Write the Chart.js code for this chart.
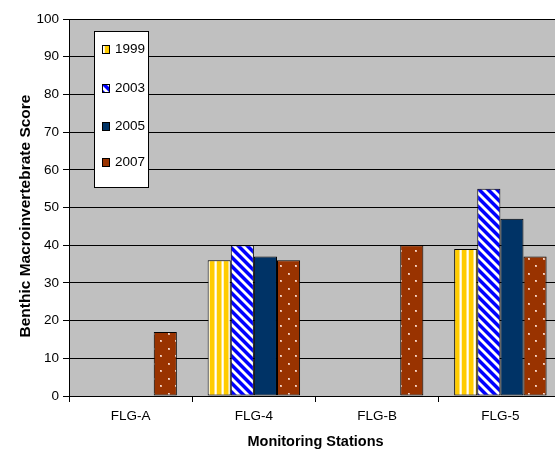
<!DOCTYPE html>
<html>
<head>
<meta charset="utf-8">
<script src="https://cdn.jsdelivr.net/npm/chart.js@4/dist/chart.umd.min.js"></script>
<style>
  html, body { margin: 0; padding: 0; background: #fff; overflow: hidden; }
  #wrap { width: 562px; height: 453px; }
  canvas { display: block; }
</style>
</head>
<body>
<div id="wrap"><canvas id="chart" width="562" height="453"></canvas></div>
<script>
// Monitoring stations and survey years
const stations = ['FLG-A', 'FLG-4', 'FLG-B', 'FLG-5'];
const years = ['1999', '2003', '2005', '2007'];

// Benthic macroinvertebrate scores per year (null = not sampled)
const score1999 = [null, 36, null, 39];
const score2003 = [null, 40, null, 55];
const score2005 = [null, 37, null, 47];
const score2007 = [17, 36, 40, 37];

// Y axis range
const yMin = 0;
const yMax = 100;
const yStep = 10;

const FONT = '"Liberation Sans", Arial, sans-serif';

// ---- fill patterns ----
function makeTile(w, h, paint) {
  const c = document.createElement('canvas');
  c.width = w; c.height = h;
  const g = c.getContext('2d');
  paint(g, w, h);
  return c;
}
function pattern(tile) {
  return document.createElement('canvas').getContext('2d').createPattern(tile, 'repeat');
}

// wide vertical yellow stripes on white
const stripeTile = makeTile(7, 1, (g) => {
  const cols = ['#FFCC00', '#FFCC00', '#FFCC00', '#FFCC00', '#FFE47A', '#FFFFFF', '#FFF2BF'];
  cols.forEach((c, x) => { g.fillStyle = c; g.fillRect(x, 0, 1, 1); });
});

// wide downward diagonal blue stripes on white
const diagTile = makeTile(9, 9, (g, w, h) => {
  for (let y = 0; y < h; y++) {
    for (let x = 0; x < w; x++) {
      const d = ((x - y) % 9 + 9) % 9;
      let c = '#FFFFFF';
      if (d < 4) c = '#0000FF';
      else if (d === 4 || d === 8) c = '#8080FF';
      g.fillStyle = c;
      g.fillRect(x, y, 1, 1);
    }
  }
});

// brown with scattered light dots
const dotTile = makeTile(15, 15, (g, w, h) => {
  g.fillStyle = '#993300';
  g.fillRect(0, 0, w, h);
  g.fillStyle = '#E6B49E';
  g.fillRect(3, 3, 2, 2);
  g.fillRect(10, 10, 2, 2);
  g.fillStyle = '#F6DCD0';
  g.fillRect(3, 3, 1, 1);
  g.fillRect(10, 10, 1, 1);
});

const fill1999 = pattern(stripeTile);
const fill2003 = pattern(diagTile);
const fill2005 = '#003366';
const fill2007 = pattern(dotTile);

// ---- plugins ----
const plotBackground = {
  id: 'plotBackground',
  beforeDraw(chart) {
    const { ctx, chartArea: a } = chart;
    ctx.save();
    ctx.fillStyle = '#C0C0C0';
    ctx.fillRect(a.left, a.top, a.right - a.left, a.bottom - a.top);
    ctx.restore();
  }
};

const yAxisTitle = {
  id: 'yAxisTitle',
  afterDraw(chart) {
    const { ctx } = chart;
    ctx.save();
    ctx.translate(26, 216);
    ctx.rotate(-Math.PI / 2);
    ctx.font = 'bold 15.5px ' + FONT;
    ctx.fillStyle = '#000';
    ctx.textAlign = 'center';
    ctx.textBaseline = 'middle';
    ctx.fillText('Benthic Macroinvertebrate Score', 0, 0);
    ctx.restore();
  }
};

// boxed legend inside the plot area
const boxLegend = {
  id: 'boxLegend',
  afterDraw(chart) {
    const { ctx } = chart;
    const box = { x: 94.5, y: 31.5, w: 54, h: 156 };
    const rows = [49, 88, 126, 162];
    ctx.save();
    ctx.fillStyle = '#FFFFFF';
    ctx.fillRect(box.x, box.y, box.w, box.h);
    ctx.strokeStyle = '#000';
    ctx.lineWidth = 1;
    ctx.strokeRect(box.x, box.y, box.w, box.h);
    ctx.font = '13.5px ' + FONT;
    ctx.textBaseline = 'middle';
    ctx.textAlign = 'left';
    chart.data.datasets.forEach((ds, i) => {
      const cy = rows[i];
      ctx.fillStyle = ds.backgroundColor;
      ctx.fillRect(103, cy - 3, 6, 7);
      ctx.strokeStyle = '#000';
      ctx.strokeRect(102.5, cy - 3.5, 7, 8);
      ctx.fillStyle = '#000';
      ctx.fillText(ds.label, 115, cy + 0.5);
    });
    ctx.restore();
  }
};

function series(label, data, fill) {
  return {
    label,
    data,
    backgroundColor: fill,
    borderColor: '#000',
    borderWidth: 1,
    borderSkipped: false,
    categoryPercentage: 0.75,
    barPercentage: 1.0
  };
}

new Chart(document.getElementById('chart'), {
  type: 'bar',
  data: {
    labels: stations,
    datasets: [
      series(years[0], score1999, fill1999),
      series(years[1], score2003, fill2003),
      series(years[2], score2005, fill2005),
      series(years[3], score2007, fill2007)
    ]
  },
  options: {
    responsive: false,
    animation: false,
    devicePixelRatio: 1,
    layout: { padding: { top: 19, right: 0, bottom: 0, left: 0 } },
    plugins: {
      legend: { display: false },
      tooltip: { enabled: false }
    },
    scales: {
      x: {
        grid: {
          offset: true,
          drawOnChartArea: false,
          drawTicks: true,
          tickLength: 6,
          color: '#000'
        },
        border: { display: true, color: '#000', width: 1 },
        ticks: {
          color: '#000',
          font: { family: FONT, size: 13.5 },
          padding: 6,
          maxRotation: 0
        },
        title: {
          display: true,
          text: 'Monitoring Stations',
          color: '#000',
          font: { family: FONT, size: 14.5, weight: 'bold' },
          padding: { top: 9, bottom: 2.5 }
        },
        afterFit(scale) { scale.height = 57; }
      },
      y: {
        min: yMin,
        max: yMax,
        grid: {
          color: '#000',
          lineWidth: 1,
          drawTicks: true,
          tickLength: 6
        },
        border: { display: true, color: '#000', width: 1 },
        ticks: {
          stepSize: yStep,
          color: '#000',
          font: { family: FONT, size: 13.5 },
          padding: 4
        },
        afterFit(scale) { scale.width = 69; }
      }
    }
  },
  plugins: [plotBackground, yAxisTitle, boxLegend]
});
</script>
</body>
</html>
